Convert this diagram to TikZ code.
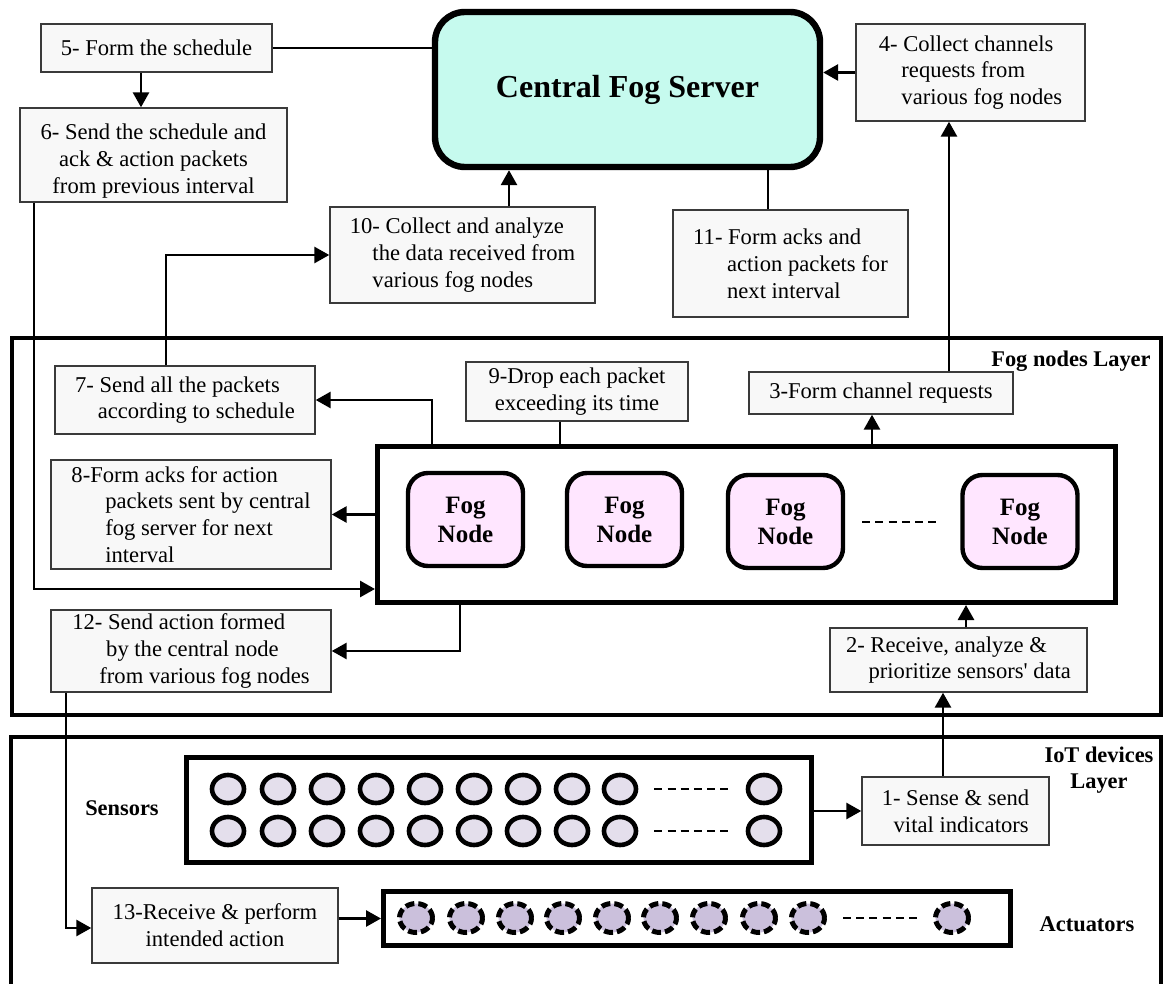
\documentclass[tikz,border=0pt]{standalone}
\usepackage{fontspec}
\setmainfont{Liberation Serif}
\usetikzlibrary{arrows.meta,shapes.geometric,calc}
\definecolor{serverfill}{HTML}{C6FAEE}
\definecolor{fogfill}{HTML}{FFE6FF}
\definecolor{boxfill}{HTML}{F8F8F8}
\definecolor{sensfill}{HTML}{E4DFEC}
\definecolor{actfill}{HTML}{CBC0DC}
\definecolor{boxline}{HTML}{3A3A3A}
\begin{document}
\begin{tikzpicture}[x=0.5pt,y=-0.5pt,
  stepbox/.style={draw=boxline,line width=0.7pt,fill=boxfill,inner sep=0pt,
    font=\fontsize{11.3}{13.4}\selectfont},
  conn/.style={line width=1.4pt},
  arr/.style={line width=1.4pt,-{Triangle[length=7.5pt,width=8pt]}},
  layerbox/.style={draw,line width=2pt,inner sep=0pt},
  server/.style={draw,line width=3.2pt,fill=serverfill,rounded corners=15pt,
    minimum width=192.5pt,minimum height=77.5pt,font=\bfseries\fontsize{16}{19}\selectfont},
  fognode/.style={draw,line width=2.2pt,fill=fogfill,rounded corners=10pt,
    minimum width=57.5pt,minimum height=46.5pt,align=center,
    font=\bfseries\fontsize{12.5}{14.5}\selectfont},
  sensor/.style={ellipse,draw,line width=2.3pt,fill=sensfill,minimum width=16pt,
    minimum height=14pt,inner sep=0pt},
  actuator/.style={ellipse,draw,line width=2.5pt,fill=actfill,dash pattern=on 4.5pt off 2pt,
    minimum width=16.5pt,minimum height=14.5pt,inner sep=0pt},
  dashline/.style={line width=1pt,dash pattern=on 4pt off 2.6pt},
  lbl/.style={font=\bfseries\fontsize{11.2}{13}\selectfont,inner sep=0pt,align=center}]
\useasboundingbox (0,0) rectangle (1168,984);

% layers
\node[layerbox,minimum width=574.5pt,minimum height=188.5pt] (foglayer) at (586.5,526.5) {};
\coordinate (iotbl) at (11,984);
\coordinate (iotbr) at (1161,984);
\coordinate (iottop) at (586,737);
\draw[line width=2pt] (iotbl) |- (iottop) -| (iotbr);

\node[lbl,anchor=east] (fogLbl) at (1151,361) {Fog nodes Layer};
\node[lbl] (iotLbl) at (1099,770) {IoT devices\\Layer};
\node[lbl] (sensLbl) at (122,808) {Sensors};
\node[lbl] (actLbl) at (1087,924) {Actuators};

% central server
\node[server] (server) at (627.5,89.5) {Central Fog Server};

% step boxes
\node[stepbox,minimum width=115.5pt,minimum height=24pt,align=center] (b5) at (156.5,48) {5- Form the schedule};
\node[stepbox,minimum width=133.5pt,minimum height=47pt,align=center] (b6) at (153.5,155) {};
\node[inner sep=0pt,align=center,font=\fontsize{11.3}{13.4}\selectfont] (b6t) at ([yshift=-3pt]b6.center)
  {6- Send the schedule and\\ack \& action packets\\from previous interval};
\node[stepbox,minimum width=114.5pt,minimum height=48.5pt,align=left] (b4) at (970.5,72.5)
  {4- Collect channels\\\hspace*{1em}requests from\\\hspace*{1em}various fog nodes};
\node[stepbox,minimum width=132.5pt,minimum height=48pt,align=left] (b10) at (462.5,255)
  {10- Collect and analyze\\\hspace*{1em}the data received from\\\hspace*{1em}various fog nodes};
\node[stepbox,minimum width=117.5pt,minimum height=53.5pt,align=left] (b11) at (790.5,263.5)
  {11- Form acks and\\\hspace*{1.5em}action packets for\\\hspace*{1.5em}next interval};
\node[stepbox,minimum width=130pt,minimum height=34pt,align=left] (b7) at (185,400)
  {7- Send all the packets\\\hspace*{1em}according to schedule};
\node[stepbox,minimum width=111pt,minimum height=29.5pt,align=center] (b9) at (577,391.5)
  {9-Drop each packet\\exceeding its time};
\node[stepbox,minimum width=132pt,minimum height=21pt,align=center] (b3) at (881,393)
  {3-Form channel requests};
\node[stepbox,minimum width=140pt,minimum height=54.5pt,align=left] (b8) at (191,514.5)
  {8-Form acks for action\\\hspace*{1.5em}packets sent by central\\\hspace*{1.5em}fog server for next\\\hspace*{1.5em}interval};
\node[stepbox,minimum width=140pt,minimum height=41pt,align=left] (b12) at (191,651)
  {12- Send action formed\\\hspace*{1.5em}by the central node\\\hspace*{1.2em}from various fog nodes};
\node[stepbox,minimum width=128.5pt,minimum height=32pt,align=left] (b2) at (958.5,660)
  {2- Receive, analyze \&\\\hspace*{1em}prioritize sensors\textquotesingle\ data};
\node[stepbox,minimum width=93.5pt,minimum height=34pt,align=center] (b1) at (955.5,811)
  {1- Sense \& send\\\hspace*{0.5em}vital indicators};
\node[stepbox,minimum width=123pt,minimum height=37.5pt,align=center] (b13) at (215,925.5)
  {13-Receive \& perform\\intended action};

% fog node container
\node[draw,line width=2.5pt,minimum width=369pt,minimum height=78pt,inner sep=0pt] (cont) at (746.5,524.5) {};
\node[fognode] (f1) at (465.5,519.5) {Fog\\Node};
\node[fognode] (f2) at (624.5,519.5) {Fog\\Node};
\node[fognode] (f3) at (785.5,521.5) {Fog\\Node};
\node[fognode] (f4) at (1020,521.5) {Fog\\Node};
\draw[dashline,shorten <=8.5pt,shorten >=10pt] (f3.east) -- (f4.west |- f3.east);

% sensors
\node[draw,line width=2.5pt,minimum width=312.5pt,minimum height=52.5pt,inner sep=0pt] (sens) at (499,810) {};
\foreach \x [count=\i] in {228,278,327,376,425,474,523,572,620,764} {
  \node[sensor] (s\i) at (\x,789) {};
  \node[sensor] (t\i) at (\x,831) {};
}
\draw[dashline,shorten <=8pt,shorten >=7pt] (s9.east) -- (s10.west);
\draw[dashline,shorten <=8pt,shorten >=7pt] (t9.east) -- (t10.west);

% actuators
\node[draw,line width=2.5pt,minimum width=313.5pt,minimum height=27pt,inner sep=0pt] (act) at (697,918.5) {};
\foreach \x [count=\i] in {416,466,515,563,612,660,709,759,808,952} {
  \node[actuator] (a\i) at (\x,918) {};
}
\draw[dashline,shorten <=8pt,shorten >=8pt] (a9.east) -- (a10.west);

% helper coordinates for connector positions
\coordinate (x56) at (141,0);
\coordinate (x34) at (949,0);
\coordinate (x3) at (872,0);
\coordinate (x2) at (966,0);
\coordinate (x1) at (943,0);
\coordinate (x12) at (66,0);
\coordinate (x12b) at (460,0);
\coordinate (c6) at (34,589);
\coordinate (x7) at (432,0);
\coordinate (x9) at (560,0);
\coordinate (x710) at (166,0);
\coordinate (x10) at (509,0);
\coordinate (x11) at (768,0);
\coordinate (y13) at (0,928);

% connectors
\draw[conn] (b5.east) -- (b5.east -| server.west);
\draw[arr] (b5.south -| x56) -- (b6.north -| x56);
\draw[arr] (b4.west) -- (b4.west -| server.east);
\draw[arr] (b3.north -| x34) -- (b4.south -| x34);
\draw[arr] (cont.north -| x3) -- (b3.south -| x3);
\draw[arr] (b2.north -| x2) -- (cont.south -| x2);
\draw[arr] (b1.north -| x1) -- (b2.south -| x1);
\draw[arr] (sens.east |- b1.west) -- (b1.west);
\draw[arr] (b13.east |- act.west) -- (act.west);
\draw[arr] (b12.south -| x12) |- (b13.west |- y13);
\draw[arr] (cont.south -| x12b) |- (b12.east);
\draw[arr] (b6.south -| c6) |- (cont.west |- c6);
\draw[arr] (cont.west |- b8.east) -- (b8.east);
\draw[arr] (cont.north -| x7) |- (b7.east);
\draw[conn] (b9.south -| x9) -- (cont.north -| x9);
\draw[arr] (b7.north -| x710) |- (b10.west);
\draw[arr] (b10.north -| x10) -- (server.south -| x10);
\draw[conn] (server.south -| x11) -- (b11.north -| x11);
\end{tikzpicture}
\end{document}
